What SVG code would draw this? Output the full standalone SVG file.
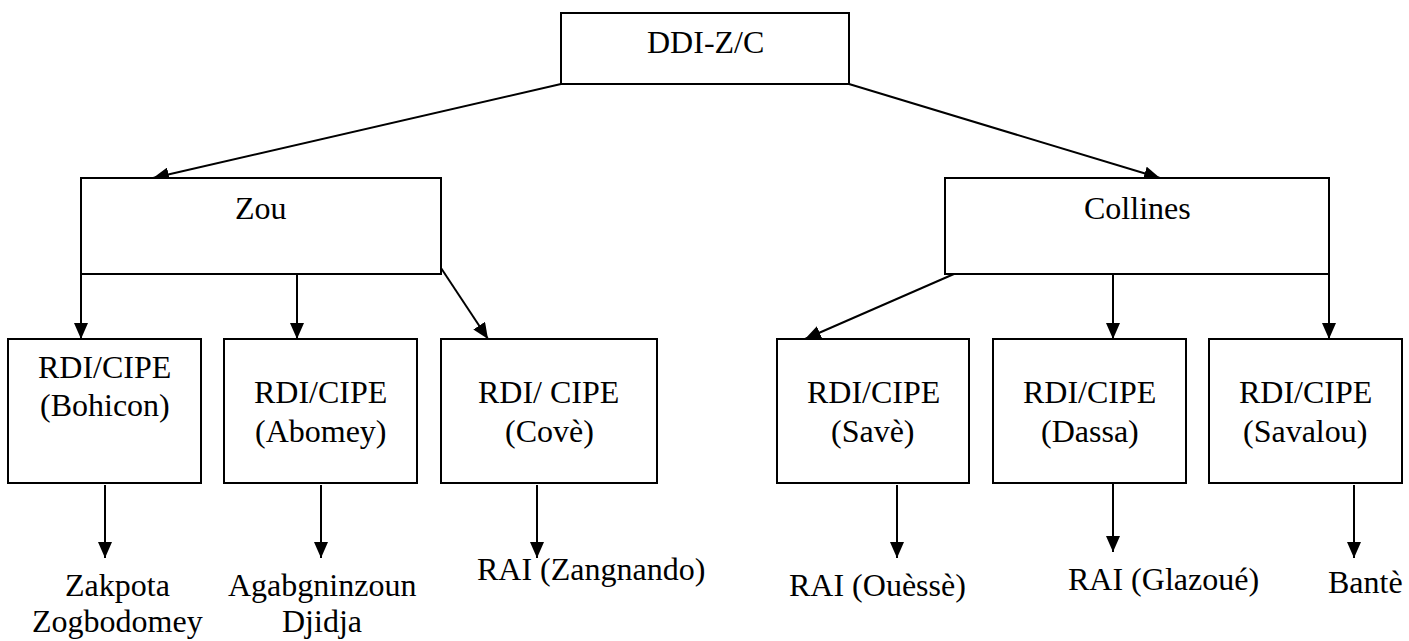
<svg xmlns="http://www.w3.org/2000/svg" width="1409" height="641" viewBox="0 0 1409 641">
<defs>
<marker id="ah" markerUnits="userSpaceOnUse" markerWidth="16" markerHeight="14" refX="16" refY="7" orient="auto">
<path d="M0,0 L16,7 L0,14 z" fill="#000"/>
</marker>
</defs>
<rect width="1409" height="641" fill="#fff"/>
<g id="connectors" stroke="#000" stroke-width="2" fill="none" marker-end="url(#ah)">
<line x1="561" y1="84" x2="153" y2="178"/>
<line x1="849" y1="84" x2="1160" y2="178"/>
<line x1="81" y1="267" x2="81" y2="339"/>
<line x1="297" y1="267" x2="297" y2="339"/>
<line x1="441" y1="268" x2="488" y2="339"/>
<line x1="970" y1="267" x2="805" y2="339"/>
<line x1="1113" y1="267" x2="1113" y2="339"/>
<line x1="1329" y1="267" x2="1329" y2="339"/>
<line x1="105" y1="485" x2="105" y2="558"/>
<line x1="321" y1="485" x2="321" y2="558"/>
<line x1="537" y1="485" x2="537" y2="558"/>
<line x1="897" y1="485" x2="897" y2="558"/>
<line x1="1113" y1="481" x2="1113" y2="552"/>
<line x1="1354" y1="485" x2="1354" y2="558"/>
</g>
<g id="ddi">
<rect x="561" y="13" width="288" height="71" fill="#fff" stroke="#000" stroke-width="2"/>
<text x="647" y="53" font-size="32" font-family="Times New Roman">DDI-Z/C</text>
</g>
<g id="zou">
<rect x="81" y="178" width="360" height="96" fill="#fff" stroke="#000" stroke-width="2"/>
<text x="235" y="219" font-size="32" font-family="Times New Roman">Zou</text>
</g>
<g id="collines">
<rect x="945" y="178" width="384" height="96" fill="#fff" stroke="#000" stroke-width="2"/>
<text x="1084" y="219" font-size="32" font-family="Times New Roman">Collines</text>
</g>
<g id="bohicon">
<rect x="8" y="339" width="193" height="144" fill="#fff" stroke="#000" stroke-width="2"/>
<text x="38" y="378" font-size="32" font-family="Times New Roman">RDI/CIPE</text>
<text x="40" y="416" font-size="32" font-family="Times New Roman">(Bohicon)</text>
</g>
<g id="abomey">
<rect x="224" y="339" width="193" height="144" fill="#fff" stroke="#000" stroke-width="2"/>
<text x="254" y="403" font-size="32" font-family="Times New Roman">RDI/CIPE</text>
<text x="255" y="442" font-size="32" font-family="Times New Roman">(Abomey)</text>
</g>
<g id="cove">
<rect x="441" y="339" width="216" height="144" fill="#fff" stroke="#000" stroke-width="2"/>
<text x="478" y="403" font-size="32" font-family="Times New Roman">RDI/ CIPE</text>
<text x="505" y="442" font-size="32" font-family="Times New Roman">(Covè)</text>
</g>
<g id="save">
<rect x="777" y="339" width="192" height="144" fill="#fff" stroke="#000" stroke-width="2"/>
<text x="807" y="403" font-size="32" font-family="Times New Roman">RDI/CIPE</text>
<text x="831" y="442" font-size="32" font-family="Times New Roman">(Savè)</text>
</g>
<g id="dassa">
<rect x="993" y="339" width="193" height="144" fill="#fff" stroke="#000" stroke-width="2"/>
<text x="1023" y="403" font-size="32" font-family="Times New Roman">RDI/CIPE</text>
<text x="1041" y="442" font-size="32" font-family="Times New Roman">(Dassa)</text>
</g>
<g id="savalou">
<rect x="1209" y="339" width="193" height="144" fill="#fff" stroke="#000" stroke-width="2"/>
<text x="1239" y="403" font-size="32" font-family="Times New Roman">RDI/CIPE</text>
<text x="1243" y="442" font-size="32" font-family="Times New Roman">(Savalou)</text>
</g>
<g id="zakpota">
<text x="65" y="596" font-size="32" font-family="Times New Roman">Zakpota</text>
<text x="32" y="632" font-size="32" font-family="Times New Roman">Zogbodomey</text>
</g>
<g id="agabgninzoun">
<text x="228" y="596" font-size="32" font-family="Times New Roman">Agabgninzoun</text>
<text x="282" y="632" font-size="32" font-family="Times New Roman">Djidja</text>
</g>
<g id="zangnando">
<text x="477" y="580" font-size="32" font-family="Times New Roman">RAI (Zangnando)</text>
</g>
<g id="ouesse">
<text x="789" y="596" font-size="32" font-family="Times New Roman">RAI (Ouèssè)</text>
</g>
<g id="glazoue">
<text x="1068" y="590" font-size="32" font-family="Times New Roman">RAI (Glazoué)</text>
</g>
<g id="bante">
<text x="1328" y="593" font-size="32" font-family="Times New Roman">Bantè</text>
</g>
</svg>
